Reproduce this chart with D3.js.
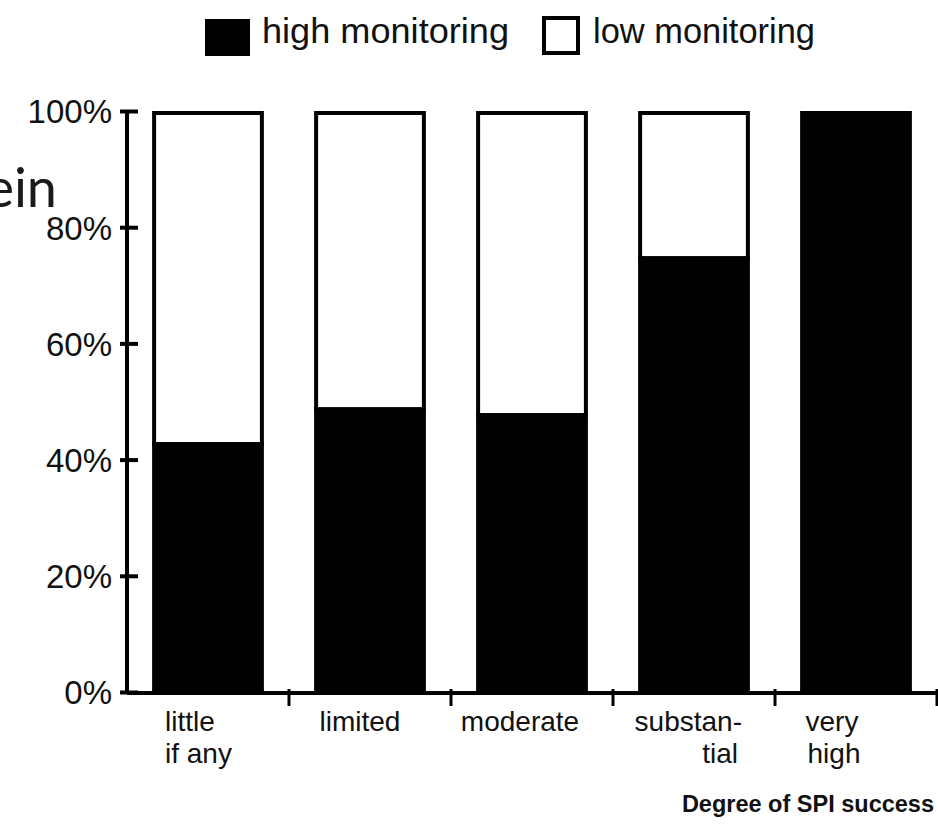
<!DOCTYPE html>
<html>
<head>
<meta charset="utf-8">
<script src="https://cdn.jsdelivr.net/npm/d3@7"></script>
<style>
  html, body { margin: 0; padding: 0; background: #fff; }
  svg { display: block; }
  text { font-family: "Liberation Sans", Arial, sans-serif; fill: #111; }
</style>
</head>
<body>
<svg id="chart" width="938" height="825"></svg>
<script>
// ---- data ----
const categories = ["little|if any", "limited", "moderate", "substan-|tial", "very|high"];
const highMonitoring = [43, 49, 48, 75, 100];   // % of projects with high monitoring
const lowMonitoring  = [57, 51, 52, 25, 0];     // % with low monitoring
const yTicks = [0, 20, 40, 60, 80, 100];
const seriesNames = ["high monitoring", "low monitoring"];
const xTitle = "Degree of SPI success";
const strayText = "ein";

// ---- layout ----
const svg = d3.select("#chart");
const x = d3.scaleBand().domain(categories).range([127, 937]).paddingInner(0.31).paddingOuter(0.155);
const y = d3.scaleLinear().domain([0, 100]).range([692, 111]);

// stray text fragment at left (cut by the left edge, as in the reference)
svg.append("text").attr("x", 57).attr("y", 207).attr("text-anchor", "end")
  .style("font-family", "Lato, 'Open Sans', sans-serif").style("font-size", "54px").style("fill", "#1a1a1a")
  .text(strayText);

// bars
const rows = categories.map((c, i) => ({ c, high: highMonitoring[i], low: lowMonitoring[i] }));
const g = svg.append("g");
g.selectAll("rect.low").data(rows).join("rect").attr("class", "low")
  .attr("x", d => x(d.c) + 2).attr("width", x.bandwidth() - 4)
  .attr("y", d => y(d.high + d.low) + 2).attr("height", d => y(d.high) - y(d.high + d.low))
  .attr("fill", "#fff").attr("stroke", "#000").attr("stroke-width", 4);
g.selectAll("rect.high").data(rows).join("rect").attr("class", "high")
  .attr("x", d => x(d.c)).attr("width", x.bandwidth())
  .attr("y", d => y(d.high)).attr("height", d => y(0) - y(d.high))
  .attr("fill", "#000");

// y axis
const yAxis = d3.axisLeft(y).tickValues(yTicks).tickFormat(d => d + "%").tickSize(0).tickPadding(15);
const ya = svg.append("g").attr("transform", "translate(127,0)").call(yAxis);
ya.select(".domain").remove();
ya.append("line").attr("x1", 0).attr("x2", 0).attr("y1", y(100)).attr("y2", y(0)).attr("stroke", "#000").attr("stroke-width", 4);
ya.selectAll(".tick").append("line").attr("x1", -7).attr("x2", 11).attr("stroke", "#000").attr("stroke-width", 4);
ya.selectAll(".tick text").style("font-size", "33px").attr("fill", "#111").attr("dy", "0.36em");

// x axis
const xa = svg.append("g");
xa.append("line").attr("x1", 127).attr("x2", 938).attr("y1", y(0) + 1).attr("y2", y(0) + 1).attr("stroke", "#000").attr("stroke-width", 4);
const edges = categories.map(c => x(c) - x.step() * x.paddingInner() / 2)
  .concat([x(categories[categories.length - 1]) + x.bandwidth() + x.step() * x.paddingInner() / 2]);
xa.selectAll("line.tk").data(edges.slice(1)).join("line").attr("class", "tk")
  .attr("x1", d => d).attr("x2", d => d).attr("y1", y(0) - 3).attr("y2", y(0) + 14)
  .attr("stroke", "#000").attr("stroke-width", 3);

const anchors = ["start", "middle", "middle", "end", "middle"];
const offsets = [-43, -10, -12, 48, -24];
const lineOffsets = [[0, 0], [0], [0], [0, -4], [0, 2]];
categories.forEach((c, i) => {
  const cx = x(c) + x.bandwidth() / 2 + offsets[i];
  const t = xa.append("text").attr("text-anchor", anchors[i]).style("font-size", "28px");
  c.split("|").forEach((line, j) => {
    t.append("tspan").attr("x", cx + (lineOffsets[i][j] || 0)).attr("y", 731 + j * 32).text(line);
  });
});

svg.append("text").attr("x", 934).attr("y", 812).attr("text-anchor", "end")
  .style("font-size", "23.5px").style("font-weight", "bold").text(xTitle);

// legend
const lg = svg.append("g");
lg.append("rect").attr("x", 205).attr("y", 19).attr("width", 45).attr("height", 37).attr("fill", "#000");
lg.append("text").attr("x", 262).attr("y", 43).style("font-size", "35px")
  .attr("textLength", 247).attr("lengthAdjust", "spacingAndGlyphs").text(seriesNames[0]);
lg.append("rect").attr("x", 544).attr("y", 18).attr("width", 34).attr("height", 35).attr("fill", "#fff").attr("stroke", "#000").attr("stroke-width", 4);
lg.append("text").attr("x", 593).attr("y", 43).style("font-size", "35px")
  .attr("textLength", 222).attr("lengthAdjust", "spacingAndGlyphs").text(seriesNames[1]);
</script>
</body>
</html>
